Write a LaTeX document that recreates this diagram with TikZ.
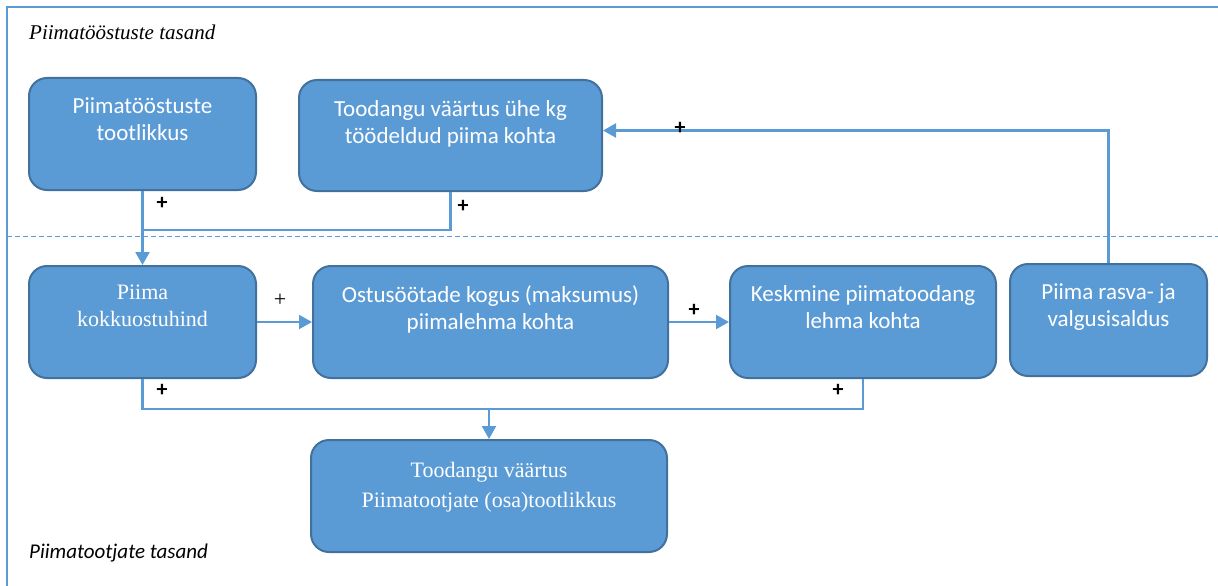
\documentclass[tikz,border=0pt]{standalone}
\usepackage{fontspec}
\setmainfont{Liberation Serif}
\newfontfamily\calfont{Carlito}
\usetikzlibrary{arrows.meta}
\definecolor{boxfill}{HTML}{5B9BD5}
\definecolor{boxborder}{HTML}{41719C}
\definecolor{linecol}{HTML}{5B9BD5}
\tikzset{
  box/.style={draw=boxborder, fill=boxfill, line width=2pt, rounded corners=18pt, inner sep=0pt},
  txts/.style={anchor=north, align=center, text=white, font=\calfont\fontsize{23}{27}\selectfont, inner sep=0pt},
  txtr/.style={anchor=north, align=center, text=white, font=\fontsize{22}{#1}\selectfont, inner sep=0pt},
  conn/.style={draw=linecol, line width=2.2pt},
  arr/.style={conn, -{Triangle[length=13pt,width=14pt]}},
  plus/.style={font=\calfont\bfseries\fontsize{22}{22}\selectfont, inner sep=0pt},
  plusr/.style={font=\fontsize{22}{22}\selectfont, inner sep=0pt},
}
\begin{document}
\begin{tikzpicture}[x=1pt,y=-1pt]
\useasboundingbox (0,0) rectangle (1218,586);
% frame
\draw[linecol, line width=1.5pt] (7,586) -- (7,7) -- (1218,7);
\draw[linecol, line width=1pt, dash pattern=on 5pt off 3pt] (7,236) -- (1218,236);
\node[anchor=west, inner sep=0pt, font=\itshape\fontsize{21}{21}\selectfont] (t1) at (29,32) {Piimatööstuste tasand};
\node[anchor=west, inner sep=0pt, font=\calfont\itshape\fontsize{21}{21}\selectfont] (t2) at (29,553) {Piimatootjate tasand};
% boxes
\node[box, minimum width=227pt, minimum height=112pt] (b1) at (142.5,134) {};
\node[box, minimum width=303pt, minimum height=111pt] (b2) at (450.5,135.5) {};
\node[box, minimum width=227pt, minimum height=112pt] (b3) at (142.5,322) {};
\node[box, minimum width=355pt, minimum height=112pt] (b4) at (490.5,322) {};
\node[box, minimum width=266pt, minimum height=112pt] (b5) at (863,322) {};
\node[box, minimum width=197pt, minimum height=112pt] (b6) at (1108.5,320) {};
\node[box, minimum width=356pt, minimum height=112pt] (b7) at (489,496) {};
% texts
\node[txts] (x1) at ([yshift=-20pt]b1.north) {Piimatööstuste\\tootlikkus};
\node[txts] (x2) at ([yshift=-21pt]b2.north) {Toodangu väärtus ühe kg\\töödeldud piima kohta};
\node[txtr=27] (x3) at ([yshift=-20pt]b3.north) {Piima\\kokkuostuhind};
\node[txtr=30] (x7) at ([yshift=-23pt]b7.north) {Toodangu väärtus\\Piimatootjate (osa)tootlikkus};
\node[txts] (x4) at ([yshift=-20pt]b4.north) {Ostusöötade kogus (maksumus)\\piimalehma kohta};
\node[txts] (x5) at ([yshift=-20pt]b5.north) {Keskmine piimatoodang\\lehma kohta};
\node[txts] (x6) at ([yshift=-20pt]b6.north) {Piima rasva- ja\\valgusisaldus};
% connectors
\coordinate (j1) at (142.5,230);
\coordinate (j2) at (489,409);
\draw[arr] (b1.south) -- (b3.north);
\draw[conn] (b2.south) |- (j1);
\draw[arr] (b3.east) -- (b4.west);
\draw[arr] (b4.east) -- (b5.west);
\draw[conn] (b3.south) |- (j2);
\draw[conn] (b5.south) |- (j2);
\draw[arr] (j2) -- (b7.north);
\draw[arr] (b6.north) |- ([yshift=5pt]b2.east);
% plus signs
\node[plus] (p1) at (162,203) {+};
\node[plus] (p2) at (463,206) {+};
\node[plusr] (p3) at (280,300) {+};
\node[plus] (p4) at (694,310) {+};
\node[plus] (p5) at (162,390) {+};
\node[plus] (p6) at (838,390) {+};
\node[plus] (p7) at (680,128) {+};
\end{tikzpicture}
\end{document}
